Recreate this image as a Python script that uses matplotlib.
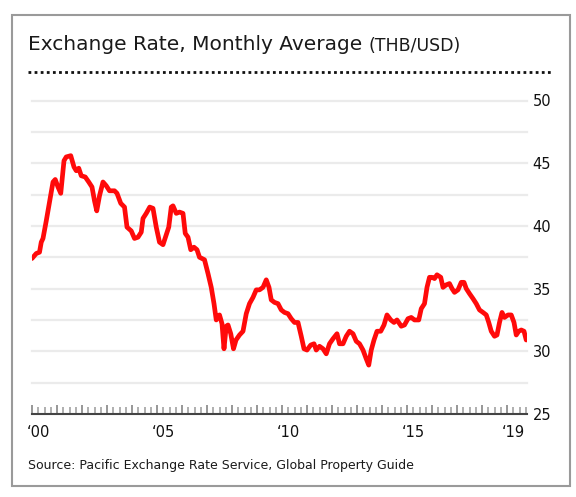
import matplotlib
matplotlib.use("Agg")
import matplotlib.pyplot as plt
from matplotlib.lines import Line2D
from matplotlib.patches import Rectangle
from matplotlib.ticker import MultipleLocator
import matplotlib.transforms as mtransforms

# Traced points (decimal year, THB per USD)
years = [
    2000.00, 2000.17, 2000.30, 2000.37, 2000.44, 2000.57, 2000.70, 2000.84, 2000.93,
    2001.04, 2001.15, 2001.28, 2001.37, 2001.55, 2001.68, 2001.77, 2001.87, 2001.97,
    2002.13, 2002.27, 2002.40, 2002.50, 2002.59, 2002.70, 2002.84, 2002.97,
    2003.10, 2003.30, 2003.40, 2003.55, 2003.70, 2003.80, 2003.97,
    2004.10, 2004.24, 2004.37, 2004.44, 2004.57, 2004.71, 2004.84, 2004.97,
    2005.10, 2005.24, 2005.37, 2005.47, 2005.57, 2005.64, 2005.77, 2005.90,
    2006.04, 2006.13, 2006.24, 2006.35, 2006.48, 2006.60, 2006.70, 2006.90,
    2007.04, 2007.17, 2007.28, 2007.37, 2007.50, 2007.60, 2007.68, 2007.77, 2007.84, 2007.95,
    2008.06, 2008.16, 2008.30, 2008.44, 2008.57, 2008.70, 2008.84, 2008.97,
    2009.10, 2009.24, 2009.37, 2009.48, 2009.57, 2009.70, 2009.84, 2009.97,
    2010.10, 2010.24, 2010.37, 2010.50, 2010.64, 2010.77, 2010.88,
    2011.00, 2011.15, 2011.28, 2011.37, 2011.50, 2011.64, 2011.77, 2011.90,
    2012.04, 2012.20, 2012.30, 2012.44, 2012.57, 2012.70, 2012.84, 2012.97,
    2013.10, 2013.24, 2013.37, 2013.47, 2013.57, 2013.68, 2013.80, 2013.95,
    2014.08, 2014.20, 2014.35, 2014.48, 2014.60, 2014.77, 2014.90,
    2015.04, 2015.17, 2015.30, 2015.47, 2015.57, 2015.70, 2015.80, 2015.90,
    2016.00, 2016.10, 2016.20, 2016.35, 2016.44, 2016.57, 2016.70, 2016.80, 2016.90,
    2017.04, 2017.17, 2017.28, 2017.37, 2017.50, 2017.64, 2017.77, 2017.90,
    2018.04, 2018.17, 2018.27, 2018.37, 2018.50, 2018.60, 2018.70, 2018.80, 2018.90,
    2019.04, 2019.17, 2019.28, 2019.37, 2019.47, 2019.57, 2019.68, 2019.77,
]
rates = [
    37.4, 37.8, 37.9, 38.7, 39.0, 40.4, 41.9, 43.5, 43.7,
    43.1, 42.6, 45.2, 45.5, 45.6, 44.7, 44.4, 44.6, 44.0,
    43.9, 43.5, 43.1, 42.0, 41.2, 42.4, 43.5, 43.2,
    42.8, 42.8, 42.6, 41.8, 41.5, 39.9, 39.6,
    39.0, 39.1, 39.5, 40.6, 41.0, 41.5, 41.4, 39.9,
    38.7, 38.5, 39.3, 39.9, 41.5, 41.6, 41.0, 41.1,
    41.0, 39.4, 39.1, 38.1, 38.3, 38.1, 37.5, 37.3,
    36.2, 35.1, 33.8, 32.5, 32.9, 32.2, 30.2, 32.0, 32.1, 31.4,
    30.2, 30.9, 31.3, 31.6, 33.0, 33.8, 34.3, 34.9,
    34.9, 35.1, 35.7, 35.1, 34.1, 33.9, 33.8, 33.3,
    33.1, 33.0, 32.6, 32.3, 32.3, 31.2, 30.2,
    30.1, 30.5, 30.6, 30.1, 30.4, 30.2, 29.8, 30.6,
    31.0, 31.4, 30.6, 30.6, 31.2, 31.6, 31.4, 30.8,
    30.6, 30.1, 29.4, 28.9, 30.1, 30.9, 31.6, 31.6,
    32.1, 32.9, 32.5, 32.3, 32.5, 32.0, 32.1,
    32.6, 32.7, 32.5, 32.5, 33.4, 33.8, 35.1, 35.9,
    35.9, 35.8, 36.1, 35.9, 35.1, 35.3, 35.4, 35.0, 34.7,
    34.9, 35.5, 35.5, 35.0, 34.6, 34.2, 33.8, 33.3,
    33.1, 32.9, 32.3, 31.6, 31.2, 31.3, 32.3, 33.1, 32.7,
    32.9, 32.9, 32.3, 31.3, 31.6, 31.7, 31.6, 30.9,
]

label_years = [2000, 2005, 2010, 2015, 2019]
label_texts = ["\u201800", "\u201805", "\u201810", "\u201815", "\u201819"]
y_ticks = [25, 30, 35, 40, 45, 50]
grid_levels = [27.5, 30, 32.5, 35, 37.5, 40, 42.5, 45, 47.5, 50]

W, H = 576, 497
fig = plt.figure(figsize=(W / 100, H / 100), dpi=100)
fig.patch.set_facecolor("white")

# outer frame
fig.patches.append(Rectangle((12 / W, 1 - 486 / H), 558 / W, 471 / H,
                             transform=fig.transFigure, fill=False,
                             edgecolor="#9a9a9a", linewidth=1.5))

fig.text(28 / W, 1 - 45 / H, "Exchange Rate, Monthly Average", fontsize=14.5,
         color="#1a1a1a", va="center", ha="left")
fig.text(369 / W, 1 - 46 / H, "(THB/USD)", fontsize=12.5,
         color="#1a1a1a", va="center", ha="left")
fig.lines.append(Line2D([28 / W, 552 / W], [1 - 72 / H, 1 - 72 / H],
                        transform=fig.transFigure, color="#111111",
                        linewidth=2, linestyle=(0, (1, 1.2))))
fig.text(28 / W, 1 - 465 / H, "Source: Pacific Exchange Rate Service, Global Property Guide",
         fontsize=9, color="#1a1a1a", va="center", ha="left")

ax = fig.add_axes([32 / W, 1 - 414 / H, 495 / W, 313.5 / H])
ax.plot(years, rates, color="#ff0a0a", linewidth=3.4, solid_joinstyle="round",
        solid_capstyle="round", zorder=3)

ax.set_xlim(2000, 2019.8)
ax.set_ylim(25, 50)

for lvl in grid_levels:
    ax.axhline(lvl, color="#ebebeb", linewidth=1.6, zorder=0, clip_on=False)

ax.yaxis.tick_right()
ax.set_yticks(y_ticks)
ax.tick_params(axis="y", which="both", length=0, pad=4, labelsize=10.5,
               labelcolor="#111111")

ax.xaxis.set_major_locator(MultipleLocator(1))
ax.xaxis.set_minor_locator(MultipleLocator(0.25))
ax.tick_params(axis="x", which="major", direction="in", length=6.5, width=1.1,
               color="#7a7a7a", labelbottom=False)
ax.tick_params(axis="x", which="minor", direction="in", length=5, width=1.1,
               color="#9a9a9a")

for s in ["top", "left", "right"]:
    ax.spines[s].set_visible(False)
ax.spines["bottom"].set_color("#444444")
ax.spines["bottom"].set_linewidth(1.5)
ax.spines["bottom"].set_zorder(4)

trans = mtransforms.blended_transform_factory(ax.transData, ax.transAxes)
for yr, txt in zip(label_years, label_texts):
    ax.text(yr + 0.25, -0.06, txt, transform=trans, ha="center", va="center",
            fontsize=10.5, color="#111111")

fig.savefig("out.png", dpi=100)
